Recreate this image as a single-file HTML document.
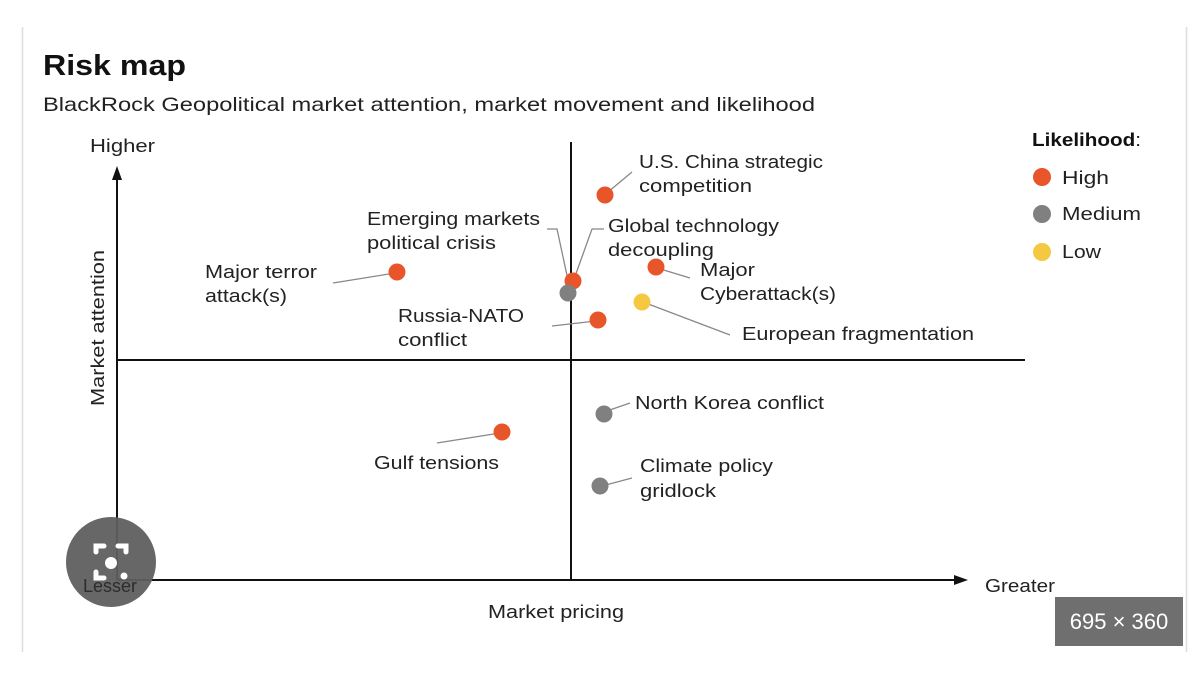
<!DOCTYPE html>
<html><head><style>
html,body{margin:0;padding:0;background:#fff;}
svg{display:block;font-family:"Liberation Sans",sans-serif;}
</style></head><body>
<svg width="1194" height="678" viewBox="0 0 1194 678" xmlns="http://www.w3.org/2000/svg">
<rect width="1194" height="678" fill="#fff"/>
<line x1="22.5" y1="27" x2="22.5" y2="652" stroke="#ddd" stroke-width="1.5"/>
<line x1="1186.5" y1="27" x2="1186.5" y2="652" stroke="#ddd" stroke-width="1.5"/>
<text x="43" y="75" font-size="29" font-weight="bold" fill="#111" textLength="143" lengthAdjust="spacingAndGlyphs">Risk map</text>
<text x="43" y="111" font-size="19.5" fill="#222" textLength="772" lengthAdjust="spacingAndGlyphs">BlackRock Geopolitical market attention, market movement and likelihood</text>
<g fill="#222" font-size="18" lengthAdjust="spacingAndGlyphs">
<text x="90" y="152" textLength="65" lengthAdjust="spacingAndGlyphs">Higher</text>
<text x="104" y="328" transform="rotate(-90 104 328)" text-anchor="middle" textLength="156" lengthAdjust="spacingAndGlyphs">Market attention</text>
<text x="83" y="592">Lesser</text>
<text x="985" y="592" textLength="70" lengthAdjust="spacingAndGlyphs">Greater</text>
<text x="488" y="618" textLength="136" lengthAdjust="spacingAndGlyphs">Market pricing</text>
</g>
<g stroke="#111" stroke-width="2">
<line x1="117" y1="178" x2="117" y2="580"/>
<line x1="117" y1="580" x2="955" y2="580"/>
<line x1="571" y1="142" x2="571" y2="580"/>
<line x1="117" y1="360" x2="1025" y2="360"/>
</g>
<polygon points="117,166 112,180 122,180" fill="#111"/>
<polygon points="968,580 954,575 954,585" fill="#111"/>
<g stroke="#888" stroke-width="1.3" fill="none">
<line x1="333" y1="283" x2="395" y2="273"/>
<polyline points="547,229 557,229 568,280"/>
<polyline points="604,229 592,229 573,282"/>
<line x1="552" y1="326" x2="596" y2="321"/>
<line x1="608" y1="192" x2="632" y2="172"/>
<line x1="657" y1="268" x2="690" y2="278"/>
<line x1="643" y1="302" x2="730" y2="335"/>
<line x1="604" y1="412" x2="630" y2="403"/>
<line x1="437" y1="443" x2="500" y2="433"/>
<line x1="602" y1="486" x2="632" y2="478"/>
</g>
<g fill="#e8552a">
<circle cx="605" cy="195" r="8.5"/>
<circle cx="397" cy="272" r="8.5"/>
<circle cx="573" cy="281" r="8.5"/>
<circle cx="656" cy="267" r="8.5"/>
<circle cx="598" cy="320" r="8.5"/>
<circle cx="502" cy="432" r="8.5"/>
</g>
<g fill="#808080">
<circle cx="568" cy="293" r="8.5"/>
<circle cx="604" cy="414" r="8.5"/>
<circle cx="600" cy="486" r="8.5"/>
</g>
<circle cx="642" cy="302" r="8.5" fill="#f5c842"/>
<g fill="#222" font-size="18">
<text x="639" y="168" textLength="184" lengthAdjust="spacingAndGlyphs">U.S. China strategic</text>
<text x="639" y="192" textLength="113" lengthAdjust="spacingAndGlyphs">competition</text>
<text x="367" y="225" textLength="173" lengthAdjust="spacingAndGlyphs">Emerging markets</text>
<text x="367" y="249" textLength="129" lengthAdjust="spacingAndGlyphs">political crisis</text>
<text x="608" y="232" textLength="171" lengthAdjust="spacingAndGlyphs">Global technology</text>
<text x="608" y="256" textLength="106" lengthAdjust="spacingAndGlyphs">decoupling</text>
<text x="205" y="278" textLength="112" lengthAdjust="spacingAndGlyphs">Major terror</text>
<text x="205" y="302" textLength="82" lengthAdjust="spacingAndGlyphs">attack(s)</text>
<text x="700" y="276" textLength="55" lengthAdjust="spacingAndGlyphs">Major</text>
<text x="700" y="300" textLength="136" lengthAdjust="spacingAndGlyphs">Cyberattack(s)</text>
<text x="398" y="322" textLength="126" lengthAdjust="spacingAndGlyphs">Russia-NATO</text>
<text x="398" y="346" textLength="69" lengthAdjust="spacingAndGlyphs">conflict</text>
<text x="742" y="340" textLength="232" lengthAdjust="spacingAndGlyphs">European fragmentation</text>
<text x="635" y="409" textLength="189" lengthAdjust="spacingAndGlyphs">North Korea conflict</text>
<text x="374" y="469" textLength="125" lengthAdjust="spacingAndGlyphs">Gulf tensions</text>
<text x="640" y="472" textLength="133" lengthAdjust="spacingAndGlyphs">Climate policy</text>
<text x="640" y="497" textLength="76" lengthAdjust="spacingAndGlyphs">gridlock</text>
</g>
<text x="1032" y="146" font-size="18" font-weight="bold" fill="#111" textLength="109" lengthAdjust="spacingAndGlyphs">Likelihood<tspan font-weight="normal">:</tspan></text>
<circle cx="1042" cy="177" r="9" fill="#e8552a"/>
<circle cx="1042" cy="214" r="9" fill="#808080"/>
<circle cx="1042" cy="252" r="9" fill="#f5c842"/>
<g fill="#222" font-size="18">
<text x="1062" y="184" textLength="47" lengthAdjust="spacingAndGlyphs">High</text>
<text x="1062" y="220" textLength="79" lengthAdjust="spacingAndGlyphs">Medium</text>
<text x="1062" y="258" textLength="39" lengthAdjust="spacingAndGlyphs">Low</text>
</g>
<ellipse cx="111" cy="562" rx="45" ry="45" fill="#5f5f5f" opacity="0.95"/>
<g stroke="#fff" stroke-width="5" fill="none" stroke-linecap="round">
<path d="M96 552 v-6 h8 M118 546 h8 v6 M96 572 v6 h8"/>
</g>
<circle cx="111" cy="563" r="6" fill="#fff"/>
<circle cx="124" cy="576" r="3.5" fill="#fff"/>
<text x="83" y="592" font-size="18" fill="#222" opacity="0.8">Lesser</text>
<rect x="1055" y="597" width="128" height="49" fill="#6f6f6f"/>
<text x="1119" y="629" font-size="22" fill="#fff" text-anchor="middle">695 × 360</text>
</svg>
</body></html>
